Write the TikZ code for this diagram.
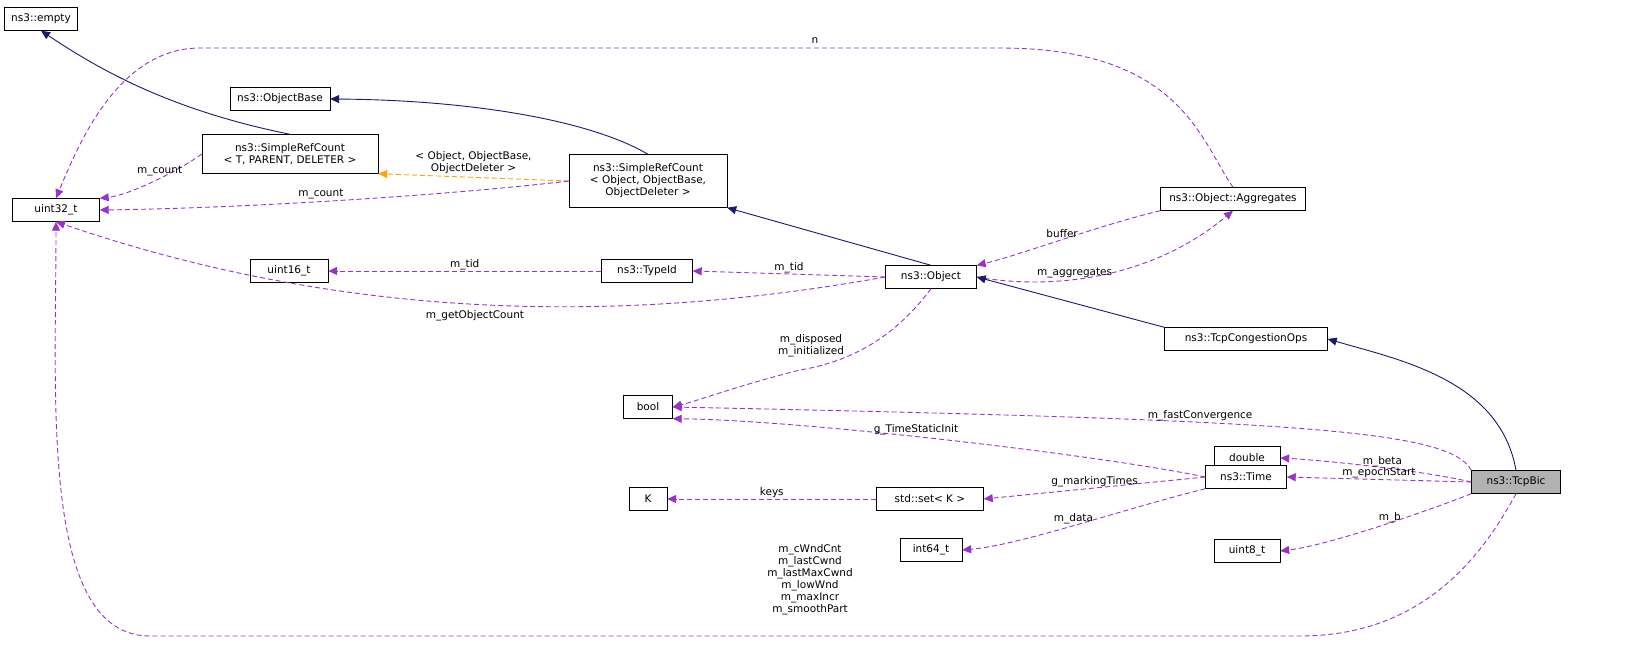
\documentclass[tikz,border=0pt]{standalone}
\usepackage{fontspec}
\setmainfont{DejaVu Sans}
\usetikzlibrary{arrows.meta}
\definecolor{navy}{RGB}{25,25,112}
\definecolor{purp}{RGB}{153,50,204}
\definecolor{orng}{RGB}{255,165,0}
\begin{document}
\begin{tikzpicture}[x=1pt,y=-1pt,scale=0.5,transform shape,
  every node/.style={font=\fontsize{10.5}{12}\selectfont},
  box/.style={draw=black,line width=0.4pt,fill=white,inner sep=0pt,minimum height=23pt,align=center},
  inh/.style={draw=navy,line width=0.45pt,-{Triangle[length=4.5pt,width=4pt]}},
  use/.style={draw=purp,line width=0.45pt,dash pattern=on 2.5pt off 1.5pt,-{Triangle[length=4.5pt,width=4pt]}},
  tpl/.style={draw=orng,line width=0.45pt,dash pattern=on 2.5pt off 1.5pt,-{Triangle[length=4.5pt,width=4pt]}},
  lbl/.style={inner sep=0pt,align=center}]
\node[box,minimum width=73pt] (empty) at (41,19) {ns3::empty};
\node[box,minimum width=100pt] (ob) at (280,99) {ns3::ObjectBase};
\node[box,minimum width=176pt,minimum height=39pt] (srct) at (290,154) {ns3::SimpleRefCount\\\textless{} T, PARENT, DELETER \textgreater};
\node[box,minimum width=87pt] (u32) at (56,210) {uint32\_t};
\node[box,minimum width=158pt,minimum height=53pt] (srco) at (648,181) {ns3::SimpleRefCount\\\textless{} Object, ObjectBase,\\ObjectDeleter \textgreater};
\node[box,minimum width=78pt] (u16) at (289,271) {uint16\_t};
\node[box,minimum width=91pt] (tid) at (647,271) {ns3::TypeId};
\node[box,minimum width=91pt] (obj) at (931,277) {ns3::Object};
\node[box,minimum width=145pt] (agg) at (1233,199) {ns3::Object::Aggregates};
\node[box,minimum width=163pt] (tco) at (1246,339) {ns3::TcpCongestionOps};
\node[box,minimum width=49pt] (bool) at (648,407) {bool};
\node[box,minimum width=66pt] (dbl) at (1247,458) {double};
\node[box,minimum width=89pt,fill=black!30] (bic) at (1516,482) {ns3::TcpBic};
\node[box,minimum width=38pt] (K) at (648,499) {K};
\node[box,minimum width=107pt] (set) at (930,499) {std::set\textless{} K \textgreater};
\node[box,minimum width=81pt] (time) at (1246,477) {ns3::Time};
\node[box,minimum width=62pt] (i64) at (931,550) {int64\_t};
\node[box,minimum width=66pt] (u8) at (1247,551) {uint8\_t};

\draw[inh] (srct.north) .. controls (170,110) and (100,70) .. (empty.south);
\draw[inh] (srco.north) .. controls (590,120) and (470,100) .. (ob.east);
\draw[tpl] (srco.west) -- node[lbl,above=3pt,pos=0.5] {\textless{} Object, ObjectBase,\\ObjectDeleter \textgreater} (srct.south east);
\draw[use] (srct.west) .. controls (180,170) and (130,195) .. node[lbl,pos=0.45,above=2pt] {m\_count} (u32.north east);
\draw[use] (srco.west) .. controls (450,195) and (250,208) .. node[lbl,pos=0.55,above=2pt] {m\_count} (u32.east);
\draw[inh] (obj.north) -- (srco.south east);
\draw[use] (agg.north) .. controls (1200,140) and (1180,48) .. (1000,48) -- (200,48) .. controls (120,48) and (80,140) .. (u32.north);
\node[lbl] (ln) at (815,41) {n};
\draw[use] (agg.south west) .. controls (1100,225) and (1020,255) .. node[lbl,pos=0.5,above=2pt] {buffer} (obj.north east);
\draw[use] (obj.east) .. controls (1050,290) and (1150,280) .. node[lbl,pos=0.4,above=1pt] {m\_aggregates} (agg.south);
\draw[use] (tid.west) -- node[lbl,above=1pt] {m\_tid} (u16.east);
\draw[use] (obj.west) -- node[lbl,above=1pt] {m\_tid} (tid.east);
\draw[use] (obj.west) .. controls (700,310) and (400,340) .. (u32.south);
\node[lbl] (lgo) at (475,316) {m\_getObjectCount};
\draw[use] (obj.south) .. controls (900,330) and (860,360) .. (800,370) .. controls (740,385) and (700,400) .. (bool.east);
\node[lbl] (ldi) at (811,346) {m\_disposed\\m\_initialized};
\draw[inh] (tco.north west) -- (obj.east);
\draw[inh] (bic.north) .. controls (1500,380) and (1400,360) .. (tco.east);
\draw[use] (bic.north west) .. controls (1450,430) and (1300,420) .. node[lbl,pos=0.62,above=1pt] {m\_fastConvergence} (bool.east);
\draw[use] (time.west) .. controls (1100,455) and (800,420) .. node[lbl,pos=0.55,above=1pt] {g\_TimeStaticInit} (bool.south east);
\draw[use] (bic.west) .. controls (1420,470) and (1320,460) .. node[lbl,pos=0.45,above=0pt] {m\_beta} (dbl.east);
\draw[use] (bic.west) -- node[lbl,above=1pt] {m\_epochStart} (time.east);
\draw[use] (set.west) -- node[lbl,above=1pt] {keys} (K.east);
\draw[use] (time.west) -- node[lbl,above=1pt] {g\_markingTimes} (set.east);
\draw[use] (time.south west) .. controls (1120,510) and (1020,545) .. node[lbl,pos=0.5,above=1pt] {m\_data} (i64.east);
\draw[use] (bic.south west) .. controls (1430,510) and (1330,545) .. node[lbl,pos=0.45,above=0pt] {m\_b} (u8.east);
\draw[use] (bic.south) .. controls (1480,560) and (1420,636) .. (1300,636) -- (150,636) .. controls (40,636) and (56,400) .. (u32.south);
\node[lbl] (lbig) at (810,580) {m\_cWndCnt\\m\_lastCwnd\\m\_lastMaxCwnd\\m\_lowWnd\\m\_maxIncr\\m\_smoothPart};
\pgfresetboundingbox
\useasboundingbox (0,0) rectangle (1637,644);
\end{tikzpicture}
\end{document}
